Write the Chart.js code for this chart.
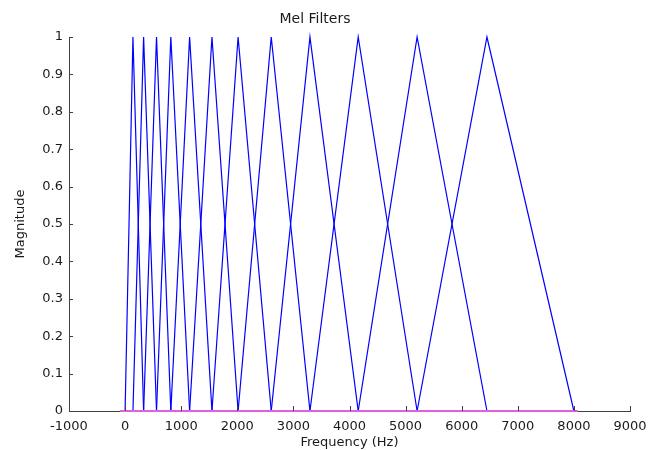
<!DOCTYPE html>
<html>
<head>
<meta charset="utf-8">
<script src="https://cdn.jsdelivr.net/npm/chart.js@4.4.1/dist/chart.umd.min.js"></script>
<style>
  html, body { margin: 0; padding: 0; background: #fff; }
  #wrap { width: 658px; height: 450px; }
</style>
</head>
<body>
<div id="wrap"><canvas id="grafica"></canvas></div>
<script>
// --- DATOS ---
// bordes de los filtros triangulares: filtro i va de bordes[i] a bordes[i+2], pico en bordes[i+1]
const bordesFiltros = [0, 140, 330, 560, 815, 1150, 1548, 2014, 2605, 3295, 4155, 5205, 6450, 8000];
const lineaBaseX = [-90, 8070];
const lineaBaseY = [0, 0];
const ticksX = [-1000, 0, 1000, 2000, 3000, 4000, 5000, 6000, 7000, 8000, 9000];
const ticksY = [0, 0.1, 0.2, 0.3, 0.4, 0.5, 0.6, 0.7, 0.8, 0.9, 1];

const FUENTE = 'DejaVu Sans';
const COLOR_EJE = '#404040';
const COLOR_TEXTO = '#1a1a1a';

// --- DATASETS ---
const datasets = [{
    label: 'base',
    data: lineaBaseX.map((x, i) => ({ x, y: lineaBaseY[i] })),
    borderColor: '#e060e0',
    borderWidth: 2
}];
for (let i = 0; i + 2 < bordesFiltros.length; i++) {
    datasets.push({
        label: 'filtro ' + (i + 1),
        data: [
            { x: bordesFiltros[i], y: 0 },
            { x: bordesFiltros[i + 1], y: 1 },
            { x: bordesFiltros[i + 2], y: 0 }
        ],
        borderColor: '#0000ff',
        borderWidth: 1.2
    });
}

// ticks hacia dentro, como en MATLAB
const ticksInteriores = {
    id: 'ticksInteriores',
    afterDatasetsDraw(chart) {
        const { ctx, chartArea, scales } = chart;
        ctx.save();
        ctx.strokeStyle = COLOR_EJE;
        ctx.lineWidth = 1;
        ctx.beginPath();
        ticksX.forEach(v => {
            const px = Math.round(scales.x.getPixelForValue(v)) + 0.5;
            ctx.moveTo(px, chartArea.bottom);
            ctx.lineTo(px, chartArea.bottom - 5);
        });
        ticksY.forEach(v => {
            const py = Math.round(scales.y.getPixelForValue(v)) + 0.5;
            ctx.moveTo(chartArea.left, py);
            ctx.lineTo(chartArea.left + 4, py);
        });
        ctx.stroke();
        ctx.restore();
    }
};

const fmt = v => String(+Number(v).toFixed(1));

new Chart(document.getElementById('grafica'), {
    type: 'scatter',
    data: { datasets },
    options: {
        responsive: true,
        maintainAspectRatio: false,
        animation: false,
        clip: false,
        showLine: true,
        elements: { point: { radius: 0, hoverRadius: 0 }, line: { tension: 0 } },
        layout: { padding: { left: 0, right: 28, top: 0, bottom: 0 } },
        plugins: {
            legend: { display: false },
            tooltip: { enabled: false },
            title: {
                display: true,
                text: 'Mel Filters',
                color: COLOR_TEXTO,
                font: { family: FUENTE, size: 14, weight: 'normal' },
                padding: { top: 11, bottom: 9.2 }
            }
        },
        scales: {
            x: {
                type: 'linear',
                min: -1000, max: 9000,
                afterBuildTicks: s => { s.ticks = ticksX.map(value => ({ value })); },
                afterFit: s => { s.height = 39; },
                grid: { display: false, drawTicks: false },
                border: { display: true, color: COLOR_EJE },
                ticks: {
                    color: COLOR_TEXTO, padding: 8, maxRotation: 0, autoSkip: false,
                    font: { family: FUENTE, size: 13 },
                    callback: fmt
                },
                title: {
                    display: true, text: 'Frequency (Hz)', color: COLOR_TEXTO,
                    font: { family: FUENTE, size: 13 },
                    padding: { top: 0, bottom: 0 }
                }
            },
            y: {
                type: 'linear',
                min: 0, max: 1,
                afterBuildTicks: s => { s.ticks = ticksY.map(value => ({ value })); },
                afterFit: s => { s.width = 69; },
                grid: { display: false, drawTicks: false },
                border: { display: true, color: COLOR_EJE },
                ticks: {
                    color: COLOR_TEXTO, padding: 6, autoSkip: false,
                    font: { family: FUENTE, size: 13 },
                    callback: fmt
                },
                title: {
                    display: true, text: 'Magnitude', color: COLOR_TEXTO,
                    font: { family: FUENTE, size: 13 },
                    padding: { top: 13, bottom: 0 }
                }
            }
        }
    },
    plugins: [ticksInteriores]
});
</script>
</body>
</html>
